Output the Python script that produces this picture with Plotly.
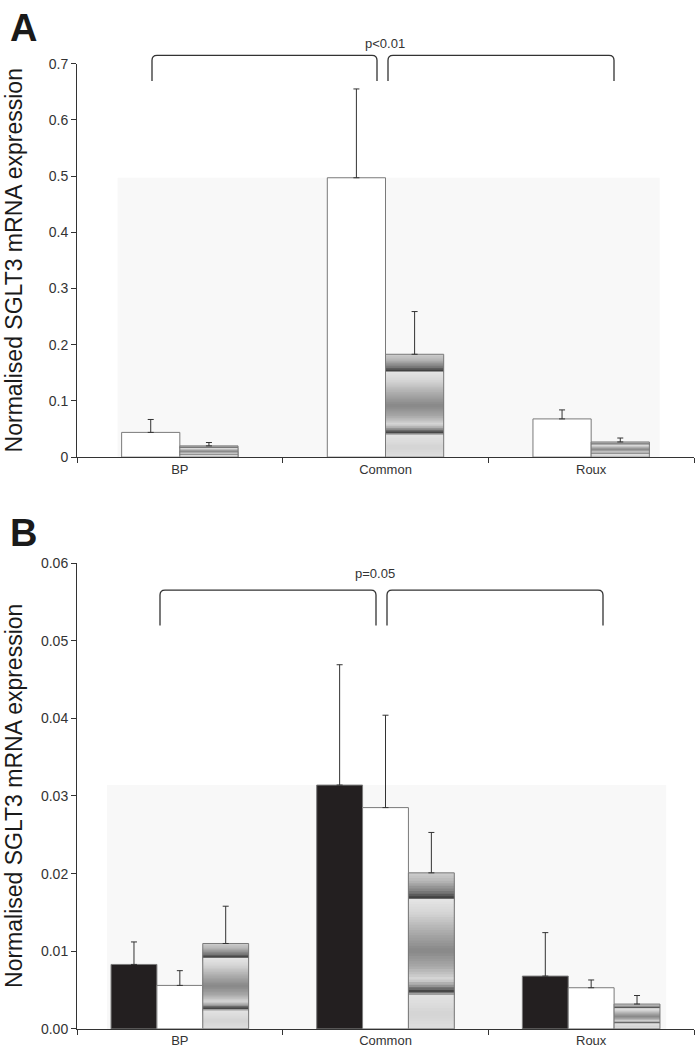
import numpy as np
import plotly.graph_objects as go

# ---------------- data ----------------
categories = ["BP", "Common", "Roux"]

# Panel A (two series: open bars, banded/gradient bars)
a_open_mean = [0.044, 0.497, 0.068]
a_open_sem = [0.023, 0.158, 0.016]
a_band_mean = [0.020, 0.183, 0.027]
a_band_sem = [0.006, 0.076, 0.007]

# Panel B (three series: black, open, banded/gradient)
b_black_mean = [0.0083, 0.0314, 0.0068]
b_black_sem = [0.0029, 0.0155, 0.0056]
b_open_mean = [0.0056, 0.0285, 0.0053]
b_open_sem = [0.0019, 0.0119, 0.0010]
b_band_mean = [0.0110, 0.0201, 0.0032]
b_band_sem = [0.0048, 0.0052, 0.0011]

a_yticks = [0, 0.1, 0.2, 0.3, 0.4, 0.5, 0.6, 0.7]
b_yticks = [0.00, 0.01, 0.02, 0.03, 0.04, 0.05, 0.06]

y_title = "Normalised SGLT3 mRNA expression"
a_sig = "p<0.01"
b_sig = "p=0.05"

# ---------------- styles ----------------
W, H = 697, 1063
FONT = "Liberation Sans, Arial, sans-serif"
AXC = "#333333"
OUTLINE = "#7a7a7a"

# gray-level profile of the banded fill (t: 0 = top of bar, 1 = bottom)
prof_t = [0.00, 0.05, 0.12, 0.150, 0.162, 0.175, 0.25, 0.40, 0.50, 0.60, 0.68, 0.72, 0.755, 0.768, 0.78, 0.90, 1.00]
prof_g = [205, 185, 125, 80, 60, 228, 215, 165, 135, 168, 215, 160, 75, 60, 228, 212, 222]
N_SLICES = 60

fig = go.Figure()


def px_x(p):
    return p / W


def px_y(p):
    return 1 - p / H


def add_plain(means, sems, color, xa, ya, width, offset):
    fig.add_trace(go.Bar(
        x=categories, y=means, width=width, offset=offset,
        marker=dict(color=color, line=dict(color=OUTLINE, width=1)),
        error_y=dict(type="data", array=sems, arrayminus=[0] * len(sems), symmetric=False,
                     color=AXC, thickness=1, width=3),
        xaxis=xa, yaxis=ya, showlegend=False, hoverinfo="skip"))


def add_banded(means, sems, xa, ya, width, offset):
    m = np.array(means, dtype=float)
    for k in range(N_SLICES):
        t = (k + 0.5) / N_SLICES
        g = int(round(np.interp(t, prof_t, prof_g)))
        fig.add_trace(go.Bar(
            x=categories, y=m * (1 - k / N_SLICES), width=width, offset=offset,
            marker=dict(color=f"rgb({g},{g},{g})", line=dict(width=0)),
            xaxis=xa, yaxis=ya, showlegend=False, hoverinfo="skip"))
    fig.add_trace(go.Bar(
        x=categories, y=means, width=width, offset=offset,
        marker=dict(color="rgba(0,0,0,0)", line=dict(color=OUTLINE, width=1)),
        error_y=dict(type="data", array=sems, arrayminus=[0] * len(sems), symmetric=False,
                     color=AXC, thickness=1, width=3),
        xaxis=xa, yaxis=ya, showlegend=False, hoverinfo="skip"))


# Panel A
wa = 0.283
fig.add_shape(type="rect", xref="x", yref="y", x0=-wa - 0.02, x1=2 + wa + 0.05,
              y0=0, y1=max(a_open_mean + a_band_mean), fillcolor="#f8f8f8",
              line=dict(width=0), layer="below")
add_plain(a_open_mean, a_open_sem, "white", "x", "y", wa, -wa)
add_banded(a_band_mean, a_band_sem, "x", "y", wa, 0)

# Panel B
wb = 0.223
fig.add_shape(type="rect", xref="x2", yref="y2", x0=-1.5 * wb - 0.02, x1=2 + 1.5 * wb + 0.03,
              y0=0, y1=max(b_black_mean + b_open_mean + b_band_mean), fillcolor="#f8f8f8",
              line=dict(width=0), layer="below")
add_plain(b_black_mean, b_black_sem, "#231f20", "x2", "y2", wb, -1.5 * wb)
add_plain(b_open_mean, b_open_sem, "white", "x2", "y2", wb, -0.5 * wb)
add_banded(b_band_mean, b_band_sem, "x2", "y2", wb, 0.5 * wb)

xdom = [px_x(77), px_x(694)]
a_dom = [px_y(456), px_y(56.5)]
b_dom = [px_y(1036.5), px_y(563.5)]

xcommon = dict(type="category", range=[-0.5, 2.5], showline=True, linecolor=AXC, linewidth=1,
               ticks="outside", tickson="boundaries", ticklen=5, tickcolor=AXC,
               tickfont=dict(family=FONT, size=13, color=AXC), showgrid=False, zeroline=False,
               fixedrange=True)
ycommon = dict(showline=True, linecolor=AXC, linewidth=1, ticks="outside", ticklen=5,
               tickcolor=AXC, tickfont=dict(family=FONT, size=14, color=AXC),
               showgrid=False, zeroline=False, fixedrange=True)

fig.update_layout(
    width=W, height=H, margin=dict(l=0, r=0, t=0, b=0),
    paper_bgcolor="white", plot_bgcolor="rgba(0,0,0,0)",
    barmode="overlay", showlegend=False,
    xaxis=dict(domain=xdom, anchor="y", **xcommon),
    yaxis=dict(domain=a_dom, anchor="x", range=[0, 0.7], tickvals=a_yticks,
               ticktext=[f"{v:g}" for v in a_yticks], **ycommon),
    xaxis2=dict(domain=xdom, anchor="y2", **xcommon),
    yaxis2=dict(domain=b_dom, anchor="x2", range=[0, 0.06], tickvals=b_yticks,
                ticktext=[f"{v:.2f}" for v in b_yticks], **ycommon),
)


def bracket(x0, x1, yt, yb, r=5):
    pts = (f"M {px_x(x0)},{px_y(yb)} L {px_x(x0)},{px_y(yt + r)} "
           f"Q {px_x(x0)},{px_y(yt)} {px_x(x0 + r)},{px_y(yt)} "
           f"L {px_x(x1 - r)},{px_y(yt)} "
           f"Q {px_x(x1)},{px_y(yt)} {px_x(x1)},{px_y(yt + r)} "
           f"L {px_x(x1)},{px_y(yb)}")
    fig.add_shape(type="path", xref="paper", yref="paper", path=pts,
                  line=dict(color=AXC, width=1.3))


bracket(152, 377, 48, 74)
bracket(388, 614, 48, 74)
bracket(160, 376, 591, 627)
bracket(387, 603, 591, 627)

ann = [
    dict(text="<b>A</b>", x=px_x(23), y=px_y(20), font=dict(size=38, color="#1a1a1a")),
    dict(text="<b>B</b>", x=px_x(23), y=px_y(533), font=dict(size=38, color="#1a1a1a")),
    dict(text=a_sig, x=px_x(385), y=px_y(36), font=dict(size=13, color=AXC)),
    dict(text=b_sig, x=px_x(375), y=px_y(574), font=dict(size=13, color=AXC)),
    dict(text=y_title, x=px_x(14), y=(a_dom[0] + a_dom[1]) / 2, textangle=-90,
         font=dict(size=23, color="#1a1a1a")),
    dict(text=y_title, x=px_x(14), y=(b_dom[0] + b_dom[1]) / 2, textangle=-90,
         font=dict(size=23, color="#1a1a1a")),
]
for a in ann:
    a["font"]["family"] = FONT
    fig.add_annotation(xref="paper", yref="paper", showarrow=False,
                       xanchor="center", yanchor="middle", **a)

fig.write_html("out.html", config={"displayModeBar": False},
               post_script="document.body.style.margin='0';document.body.style.overflow='hidden';")
